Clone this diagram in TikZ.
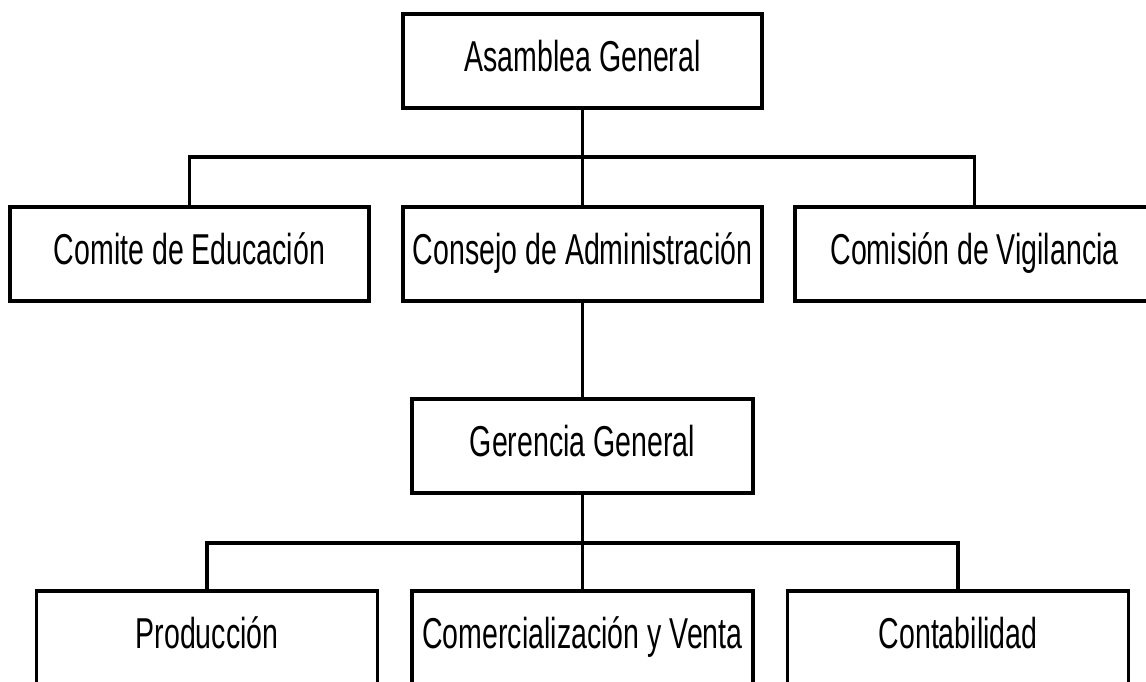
\documentclass[tikz,border=0pt]{standalone}
\usepackage{fontspec}
\setmainfont{Liberation Sans}[FakeStretch=0.66]
\usepackage{tikz}
\begin{document}
\begin{tikzpicture}
	\tikzstyle{Box} = [draw,line width=1pt,minimum height=0.94cm,inner sep=0pt,
	text height=0.82em,text depth=0.2em,font=\fontsize{12.3}{14}\selectfont]
	\tikzstyle{Wide} = [Box,minimum width=3.59cm]
	\tikzstyle{Narrow} = [Box,minimum width=3.41cm]
	\tikzstyle{Link} = [line width=1pt]
	\useasboundingbox (0,0) rectangle (11.46,6.82);
	\clip (0,0) rectangle (11.46,6.82);
	\node[Wide] (asamblea) at (5.825,6.21) {Asamblea General};
	\node[Wide] (comite) at (1.895,4.28) {Comite de Educación};
	\node[Wide] (consejo) at (5.825,4.28) {Consejo de Administración};
	\node[Wide] (comision) at (9.745,4.28) {Comisión de Vigilancia};
	\node[Narrow] (gerencia) at (5.825,2.36) {Gerencia General};
	\node[Narrow] (produccion) at (2.07,0.44) {Producción};
	\node[Narrow] (ventas) at (5.825,0.44) {Comercialización y Venta};
	\node[Narrow] (contabilidad) at (9.58,0.44) {Contabilidad};
	\coordinate (bus1) at (5.825,5.25);
	\coordinate (bus2) at (5.825,1.39);
	\draw[Link] (asamblea) -- (consejo);
	\draw[Link] (comite.north) |- (bus1) -| (comision.north);
	\draw[Link] (consejo) -- (gerencia);
	\draw[Link] (gerencia) -- (ventas);
	\draw[Link] (produccion.north) |- (bus2) -| (contabilidad.north);
	
	\end{tikzpicture}
\end{document}
